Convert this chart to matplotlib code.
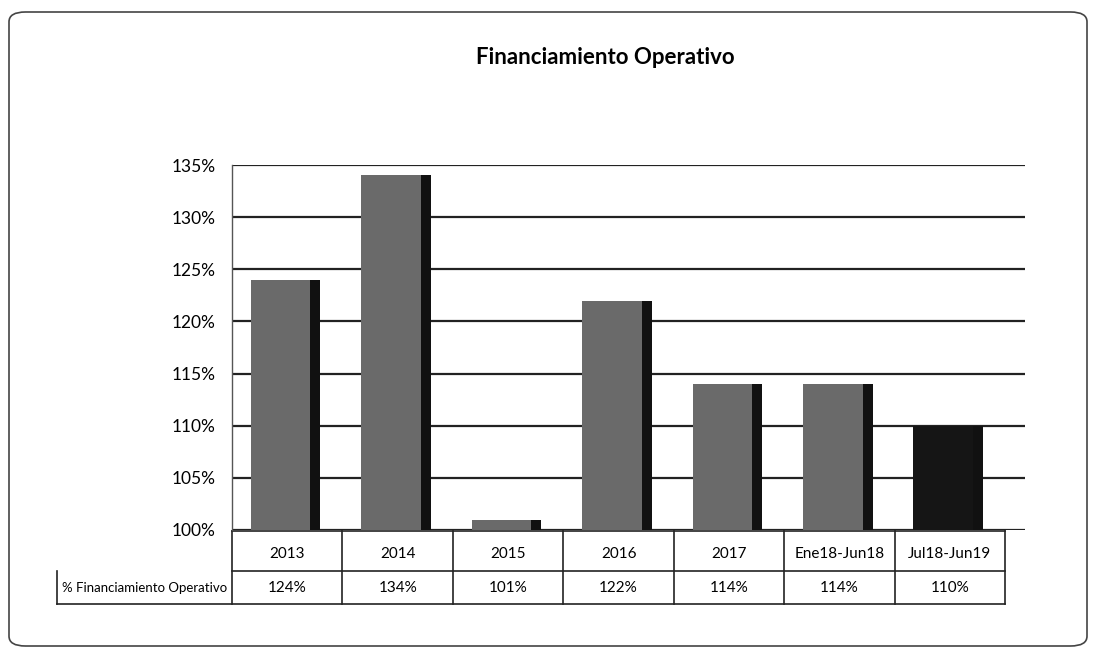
from matplotlib import pyplot as plt
from matplotlib.patches import FancyBboxPatch
from matplotlib.transforms import blended_transform_factory

plt.rcParams['font.family'] = ['Lato', 'DejaVu Sans']

periods = ['2013', '2014', '2015', '2016', '2017', 'Ene18-Jun18', 'Jul18-Jun19']
financiamiento = [124, 134, 101, 122, 114, 114, 110]
row_label = '% Financiamiento Operativo'
yticks = [100, 105, 110, 115, 120, 125, 130, 135]

face = ['#6a6a6a'] * 6 + ['#151515']
side = ['#111111'] * 7

fig = plt.figure(figsize=(10.94, 6.56), dpi=100)
ax = fig.add_axes([232/1094, 1 - 530/656, 793/1094, 365/656])

# rounded frame round the whole chart
fig.patches.append(FancyBboxPatch((9/1094, 10/656), 1078/1094, 634/656,
                                  boxstyle='round,pad=0,rounding_size=0.015',
                                  transform=fig.transFigure, fill=False,
                                  edgecolor='#444444', linewidth=1.2))

x = range(len(periods))
ax.bar([i - 0.06 for i in x], [v - 100 for v in financiamiento], bottom=100,
       width=0.54, color=face, zorder=3)
ax.bar([i + 0.255 for i in x], [v - 100 for v in financiamiento], bottom=100,
       width=0.09, color=side, zorder=3)

ax.set_xlim(-0.5, 6.68)
ax.set_ylim(100, 135)
ax.set_yticks(yticks)
ax.set_yticklabels([f'{t}%' for t in yticks], fontsize=12.5)
ax.tick_params(axis='y', length=0, pad=12)
ax.set_xticks([])
ax.yaxis.grid(True, color='#222222', linewidth=1.6, zorder=0)
for s in ['top', 'right', 'bottom']:
    ax.spines[s].set_visible(False)
ax.spines['left'].set_color('#555555')
ax.spines['left'].set_linewidth(1.0)

fig.text(605/1094, 1 - 58/656, 'Financiamiento Operativo', ha='center', va='center',
         fontsize=16, fontweight='bold')

# data table below the plot
tr = blended_transform_factory(ax.transData, fig.transFigure)
y_top, y_mid, y_bot = 1 - 531/656, 1 - 571/656, 1 - 604/656
lc = dict(color='#222222', linewidth=1.2, transform=tr, clip_on=False)
left_edge = -2.08
ax.plot([-0.5, 6.5], [y_top, y_top], **lc)
ax.plot([-0.5, 6.5], [y_mid, y_mid], **lc)
ax.plot([left_edge, 6.5], [y_bot, y_bot], **lc)
ax.plot([left_edge, left_edge], [y_mid, y_bot], **lc)
for k in range(len(periods) + 1):
    ax.plot([k - 0.5, k - 0.5], [y_top, y_bot], **lc)

for i, (p, v) in enumerate(zip(periods, financiamiento)):
    ax.text(i, (y_top + y_mid) / 2 - 0.004, p, transform=tr, ha='center', va='center', fontsize=11)
    ax.text(i, (y_mid + y_bot) / 2, f'{v}%', transform=tr, ha='center', va='center', fontsize=11)
ax.text((left_edge - 0.5) / 2, (y_mid + y_bot) / 2, row_label, transform=tr,
        ha='center', va='center', fontsize=9.5)

fig.savefig('out.png', dpi=100)
